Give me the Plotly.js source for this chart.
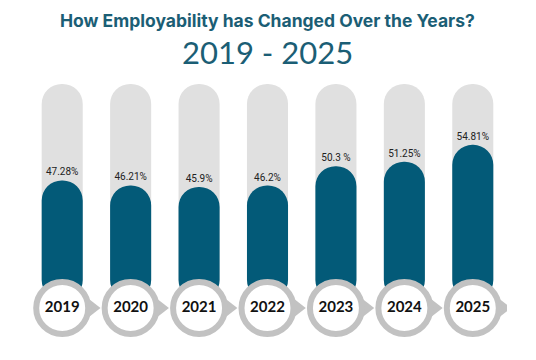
<!DOCTYPE html>
<html>
<head>
<meta charset="utf-8">
<script src="https://cdn.plot.ly/plotly-3.0.1.min.js"></script>
<style>
html,body{margin:0;padding:0;background:#fff;}
#chart{width:536px;height:360px;}
</style>
</head>
<body>
<div id="chart"></div>
<script>
// ---- data ----
const years = [2019, 2020, 2021, 2022, 2023, 2024, 2025];
const employability = [47.28, 46.21, 45.9, 46.2, 50.3, 51.25, 54.81];
const valueLabels = ['47.28%', '46.21%', '45.9%', '46.2%', '50.3 %', '51.25%', '54.81%'];
const yearLabels = ['2019', '2020', '2021', '2022', '2023', '2024', '2025'];
const trackMax = [67.7, 67.7, 67.7, 67.7, 67.7, 67.7, 67.7];
const barBase = 21.94;        // visual baseline hidden behind the year badges
const badgeLevel = 20.25;     // level of the year badges
const pointerOffset = 0.45;

const teal = '#035a78';
const track = '#e0e0e0';
const ring = '#c2c2c2';

const baseArr = years.map(() => barBase);

const traces = [
  {
    type: 'bar', x: years, y: trackMax.map(v => v - barBase), base: baseArr, width: 0.6,
    marker: {color: track, cornerradius: 20},
    hoverinfo: 'skip', showlegend: false
  },
  {
    type: 'bar', x: years, y: employability.map(v => v - barBase), base: baseArr, width: 0.6,
    marker: {color: teal, cornerradius: 20},
    text: valueLabels, textposition: 'outside', constraintext: 'none',
    textfont: {family: 'Roboto, Arial, sans-serif', size: 10, color: '#222'},
    showlegend: false
  },
  {
    type: 'scatter', mode: 'markers', x: years.map(v => v + pointerOffset), y: years.map(() => badgeLevel),
    marker: {symbol: 'triangle-right', size: 15, color: ring},
    hoverinfo: 'skip', showlegend: false
  },
  {
    type: 'scatter', mode: 'markers+text', x: years, y: years.map(() => badgeLevel),
    marker: {symbol: 'circle', size: 52, color: '#ffffff', line: {color: ring, width: 6}},
    text: yearLabels, textposition: 'middle center',
    textfont: {family: 'Lato, "Open Sans", sans-serif', size: 15, color: '#111', weight: 'bold'},
    hoverinfo: 'skip', showlegend: false
  }
];

const layout = {
  width: 536, height: 360,
  margin: {l: 28, r: 29, t: 80, b: 15},
  paper_bgcolor: '#ffffff', plot_bgcolor: '#ffffff',
  barmode: 'overlay',
  showlegend: false,
  xaxis: {range: [2018.5, 2025.5], visible: false, fixedrange: true},
  yaxis: {range: [12.41, 68.55], visible: false, fixedrange: true},
  annotations: [
    {
      text: 'How Employability has Changed Over the Years?',
      xref: 'paper', yref: 'paper', x: 0.5, y: 1.2264, xanchor: 'center', yanchor: 'middle',
      showarrow: false,
      font: {family: 'Inter, Roboto, sans-serif', size: 17.5, color: '#1b5e75', weight: 'bold'}
    },
    {
      text: '2019 - 2025',
      xref: 'paper', yref: 'paper', x: 0.5, y: 1.1057, xanchor: 'center', yanchor: 'middle',
      showarrow: false,
      font: {family: 'Lato, "Open Sans", sans-serif', size: 31, color: '#1b5e75'}
    }
  ]
};

Plotly.newPlot('chart', traces, layout, {displayModeBar: false, staticPlot: true});
</script>
</body>
</html>
